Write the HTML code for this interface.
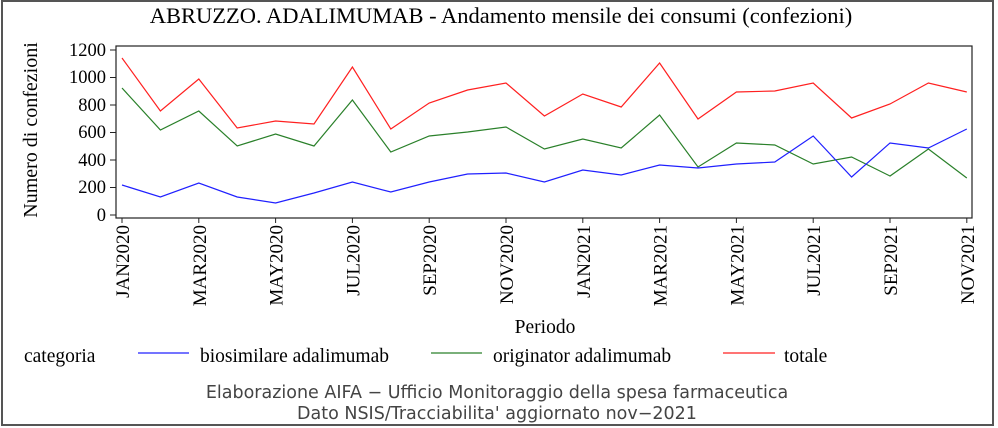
<!DOCTYPE html>
<html><head><meta charset="utf-8"><style>
html,body{margin:0;padding:0;background:#fff;}
svg{display:block;}
</style></head><body>
<svg width="998" height="428" viewBox="0 0 998 428" xmlns="http://www.w3.org/2000/svg">
<rect x="0" y="0" width="998" height="428" fill="#fff"/>
<rect x="2" y="1" width="991" height="424" fill="none" stroke="#555" stroke-width="2"/>
<text x="501" y="23" text-anchor="middle" font-family="Liberation Serif, serif" font-size="22.5">ABRUZZO. ADALIMUMAB - Andamento mensile dei consumi (confezioni)</text>
<rect x="116" y="46" width="856" height="172" fill="none" stroke="#222" stroke-width="1.2"/>
<g font-family="Liberation Serif, serif" font-size="18.5" text-anchor="end">
<text x="106" y="221">0</text><text x="106" y="193">200</text><text x="106" y="166">400</text><text x="106" y="138">600</text><text x="106" y="111">800</text><text x="106" y="83">1000</text><text x="106" y="56">1200</text>
</g>
<g stroke="#222" stroke-width="1">
<line x1="110" y1="215" x2="116" y2="215"/><line x1="110" y1="187.5" x2="116" y2="187.5"/><line x1="110" y1="160" x2="116" y2="160"/><line x1="110" y1="132.5" x2="116" y2="132.5"/><line x1="110" y1="105" x2="116" y2="105"/><line x1="110" y1="77.5" x2="116" y2="77.5"/><line x1="110" y1="50" x2="116" y2="50"/>
<line x1="122" y1="218" x2="122" y2="223"/><line x1="198.8" y1="218" x2="198.8" y2="223"/><line x1="275.6" y1="218" x2="275.6" y2="223"/><line x1="352.4" y1="218" x2="352.4" y2="223"/><line x1="429.2" y1="218" x2="429.2" y2="223"/><line x1="506" y1="218" x2="506" y2="223"/><line x1="582.8" y1="218" x2="582.8" y2="223"/><line x1="659.6" y1="218" x2="659.6" y2="223"/><line x1="736.4" y1="218" x2="736.4" y2="223"/><line x1="813.2" y1="218" x2="813.2" y2="223"/><line x1="890" y1="218" x2="890" y2="223"/><line x1="966.8" y1="218" x2="966.8" y2="223"/>
</g>
<text transform="translate(37,130) rotate(-90)" text-anchor="middle" font-family="Liberation Serif, serif" font-size="20">Numero di confezioni</text>
<g font-family="Liberation Serif, serif" font-size="19" text-anchor="end">
<text transform="translate(129,225) rotate(-90)">JAN2020</text>
<text transform="translate(205.8,225) rotate(-90)">MAR2020</text>
<text transform="translate(282.6,225) rotate(-90)">MAY2020</text>
<text transform="translate(359.4,225) rotate(-90)">JUL2020</text>
<text transform="translate(436.2,225) rotate(-90)">SEP2020</text>
<text transform="translate(513,225) rotate(-90)">NOV2020</text>
<text transform="translate(589.8,225) rotate(-90)">JAN2021</text>
<text transform="translate(666.6,225) rotate(-90)">MAR2021</text>
<text transform="translate(743.4,225) rotate(-90)">MAY2021</text>
<text transform="translate(820.2,225) rotate(-90)">JUL2021</text>
<text transform="translate(897,225) rotate(-90)">SEP2021</text>
<text transform="translate(973.8,225) rotate(-90)">NOV2021</text>
</g>
<text x="545" y="333" text-anchor="middle" font-family="Liberation Serif, serif" font-size="19.5">Periodo</text>
<g fill="none" stroke-width="1.2">
<polyline stroke="#ff2020" points="122,58 160.4,111 198.8,79 237.2,128 275.6,121 314,124 352.4,67 390.8,129 429.2,103 467.6,90 506,83 544.4,116 582.8,94 621.2,107 659.6,63 698,119 736.4,92 774.8,91 813.2,83 851.6,118 890,104 928.4,83 966.8,92"/>
<polyline stroke="#2a802a" points="122,88 160.4,130 198.8,111 237.2,146 275.6,134 314,146 352.4,100 390.8,152 429.2,136 467.6,132 506,127 544.4,149 582.8,139 621.2,148 659.6,115 698,167 736.4,143 774.8,145 813.2,164 851.6,157 890,176 928.4,149 966.8,178"/>
<polyline stroke="#2020ff" points="122,185 160.4,197 198.8,183 237.2,197 275.6,203 314,193 352.4,182 390.8,192 429.2,182 467.6,174 506,173 544.4,182 582.8,170 621.2,175 659.6,165 698,168 736.4,164 774.8,162 813.2,136 851.6,177 890,143 928.4,148 966.8,129"/>
</g>
<g font-family="Liberation Serif, serif" font-size="19.5">
<text x="24" y="362">categoria</text>
<text x="200" y="362">biosimilare adalimumab</text>
<text x="493" y="362">originator adalimumab</text>
<text x="784" y="362">totale</text>
</g>
<g stroke-width="1.2">
<line x1="138" y1="353" x2="189" y2="353" stroke="#2020ff"/>
<line x1="431" y1="353" x2="482" y2="353" stroke="#2a802a"/>
<line x1="723" y1="353" x2="775" y2="353" stroke="#ff2020"/>
</g>
<g font-family="DejaVu Sans, sans-serif" font-size="17.5" fill="#444" text-anchor="middle">
<text x="497" y="398">Elaborazione AIFA − Ufficio Monitoraggio della spesa farmaceutica</text>
<text x="497" y="419">Dato NSIS/Tracciabilita' aggiornato nov−2021</text>
</g>
</svg>
</body></html>
